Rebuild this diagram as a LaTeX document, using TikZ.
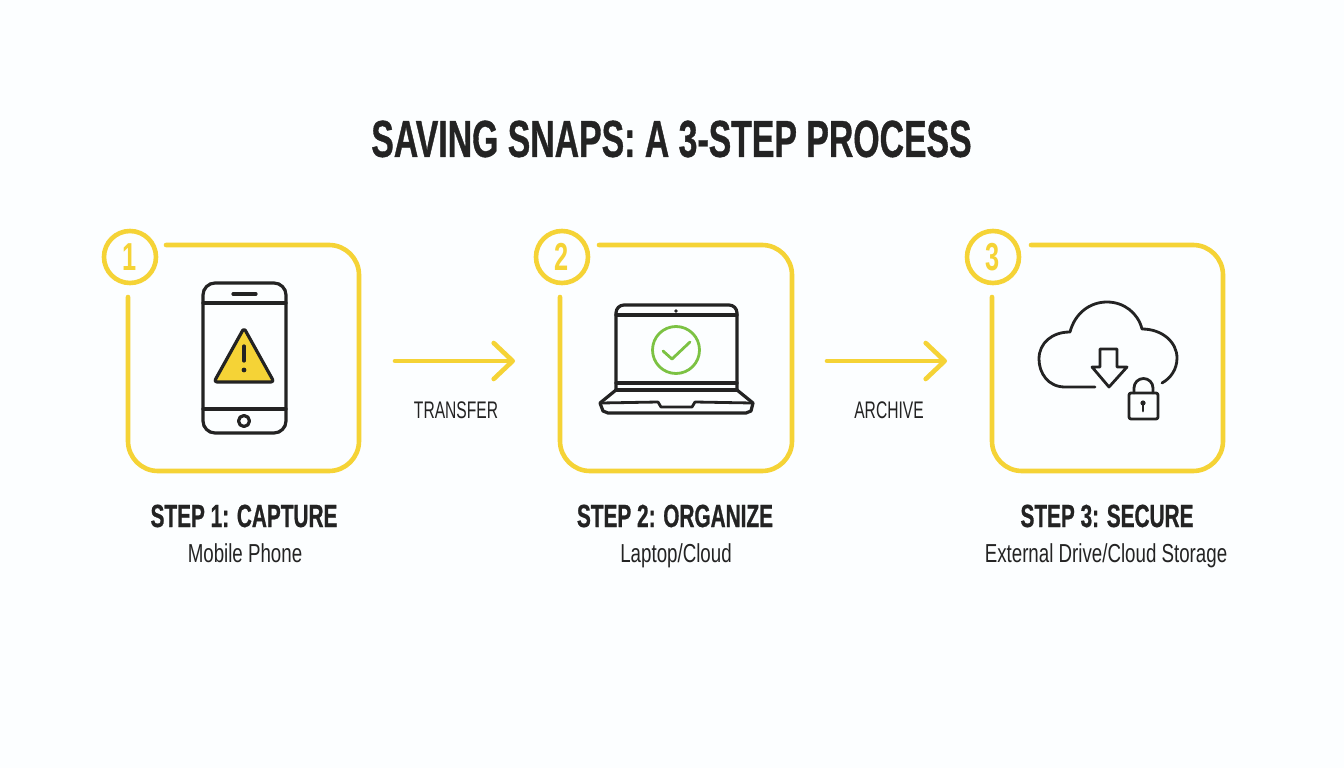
\documentclass[tikz,border=0pt]{standalone}
\usepackage{fontspec}
\setmainfont[FakeStretch=0.65,BoldFeatures={FakeBold=0.7}]{Liberation Sans}
\newfontfamily\subfont[FakeStretch=0.72]{Liberation Sans}
\newfontfamily\digitfont[FakeStretch=0.65]{Liberation Sans Bold}
\usetikzlibrary{arrows.meta}
\definecolor{snapyellow}{HTML}{F5D336}
\definecolor{snapink}{HTML}{232323}
\definecolor{snapgreen}{HTML}{7CC243}
\tikzset{
  framepath/.style={draw=snapyellow, line width=4.6pt, line cap=round, rounded corners=30pt},
  flowarrow/.style={draw=snapyellow, line width=4.6pt, line cap=round, line join=round, -{Straight Barb[length=19pt,width=36pt,line cap=round,line join=round]}},
  iconline/.style={draw=snapink, line width=3.2pt, line cap=round, line join=round},
  thinline/.style={draw=snapink, line width=2.8pt, line cap=round, line join=round},
  badge/.style={circle, draw=snapyellow, line width=4.6pt, minimum size=52pt, inner sep=0pt, text=snapyellow},
  titletext/.style={text=snapink, font=\bfseries\fontsize{52}{52}\selectfont, inner sep=0pt},
  steptext/.style={text=snapink, font=\bfseries\fontsize{32}{32}\selectfont, inner sep=0pt, anchor=base},
  flowtext/.style={text=snapink, font=\fontsize{24}{24}\selectfont, inner sep=0pt, anchor=base},
  subtext/.style={text=snapink, font=\subfont\fontsize{26}{26}\selectfont, inner sep=0pt, anchor=base},
}
\begin{document}
\begin{tikzpicture}[x=1pt, y=-1pt]
\fill[white!99!cyan] (0,0) rectangle (1344,768);
\useasboundingbox (0,0) rectangle (1344,768);
\node[titletext] (title) at (671.5,139) {SAVING SNAPS: A 3-STEP PROCESS};
% frames and badges
\foreach \num/\lx/\rx/\sx/\cx in {1/128/359/166/130, 2/560/792/599/562, 3/992/1223/1031/993}{
  \draw[framepath] (\sx,245) -- (\rx,245) -- (\rx,471) -- (\lx,471) -- (\lx,297);
  \node[badge, font=\digitfont\fontsize{39}{39}\selectfont] (badge\num) at (\cx,257) {\num};
}
% phone
\draw[iconline, rounded corners=12pt] (203,360) -- (203,283) -- (286,283) -- (286,433) -- (203,433) -- cycle;
\draw[iconline] (203,303) -- (286,303);
\draw[iconline] (203,409) -- (286,409);
\draw[iconline] (233,294) -- (256,294);
\draw[iconline] (244,421) circle[radius=5.5];
\draw[iconline, fill=snapyellow, rounded corners=3pt] (244,328) -- (214,382) -- (274,382) -- cycle;
\draw[iconline] (244,346) -- (244,361);
\fill[snapink] (244,370) circle[radius=2.4];
% laptop
\draw[iconline, rounded corners=8pt] (616,390) -- (616,305) -- (737,305) -- (737,390);
\draw[iconline] (616,390) -- (737,390);
\draw[iconline] (616,315) -- (737,315);
\draw[iconline] (616,383) -- (737,383);
\fill[snapink] (676,311) circle[radius=1.8];
\draw[iconline] (616,390) -- (600,403) -- (603,411) -- (608,413) -- (746,413) -- (751,411) -- (753,403) -- (737,390);
\draw[thinline] (601,403) -- (658,402) -- (661,407) -- (692,407) -- (695,402) -- (752,403);
\draw[draw=snapgreen, line width=2.8pt] (676,350) circle[radius=23.5];
\draw[draw=snapgreen, line width=2.8pt, line cap=round, line join=round] (663,351) -- (672,359) -- (690,342);
% cloud
\draw[thinline] (1095,387) -- (1065,387) .. controls (1048,387) and (1039,373) .. (1039,359)
  .. controls (1039,343) and (1052,332) .. (1070,332)
  .. controls (1075,313) and (1090,302) .. (1107,302)
  .. controls (1124,302) and (1138,313) .. (1142,329)
  .. controls (1162,329) and (1177,342) .. (1177,358)
  .. controls (1177,369) and (1171,378) .. (1162,383);
\draw[thinline] (1100,349) -- (1117,349) -- (1117,367) -- (1127,367) -- (1109,387) -- (1092,367) -- (1100,367) -- cycle;
% lock
\draw[thinline, rounded corners=2pt] (1129,393) -- (1158,393) -- (1158,419) -- (1129,419) -- cycle;
\draw[thinline] (1134,393) -- (1134,388) arc[start angle=180, end angle=360, radius=9.5] -- (1153,393);
\fill[snapink] (1143,403) circle[radius=2.6];
\draw[thinline] (1143,403) -- (1143,411);
% arrows
\coordinate (arr1a) at (395,361);
\coordinate (arr1b) at (515,361);
\coordinate (arr2a) at (827,361);
\coordinate (arr2b) at (947,361);
\draw[flowarrow] (arr1a) -- (arr1b);
\draw[flowarrow] (arr2a) -- (arr2b);
\node[flowtext] (lbl1) at (456,418) {TRANSFER};
\node[flowtext] (lbl2) at (889,418) {ARCHIVE};
% captions
\node[steptext] (step1) at (244,527) {STEP 1: CAPTURE};
\node[subtext] (sub1) at (245,562) {Mobile Phone};
\node[steptext] (step2) at (675,527) {STEP 2: ORGANIZE};
\node[subtext] (sub2) at (676,562) {Laptop/Cloud};
\node[steptext] (step3) at (1107,527) {STEP 3: SECURE};
\node[subtext] (sub3) at (1106,562) {External Drive/Cloud Storage};
\end{tikzpicture}
\end{document}
